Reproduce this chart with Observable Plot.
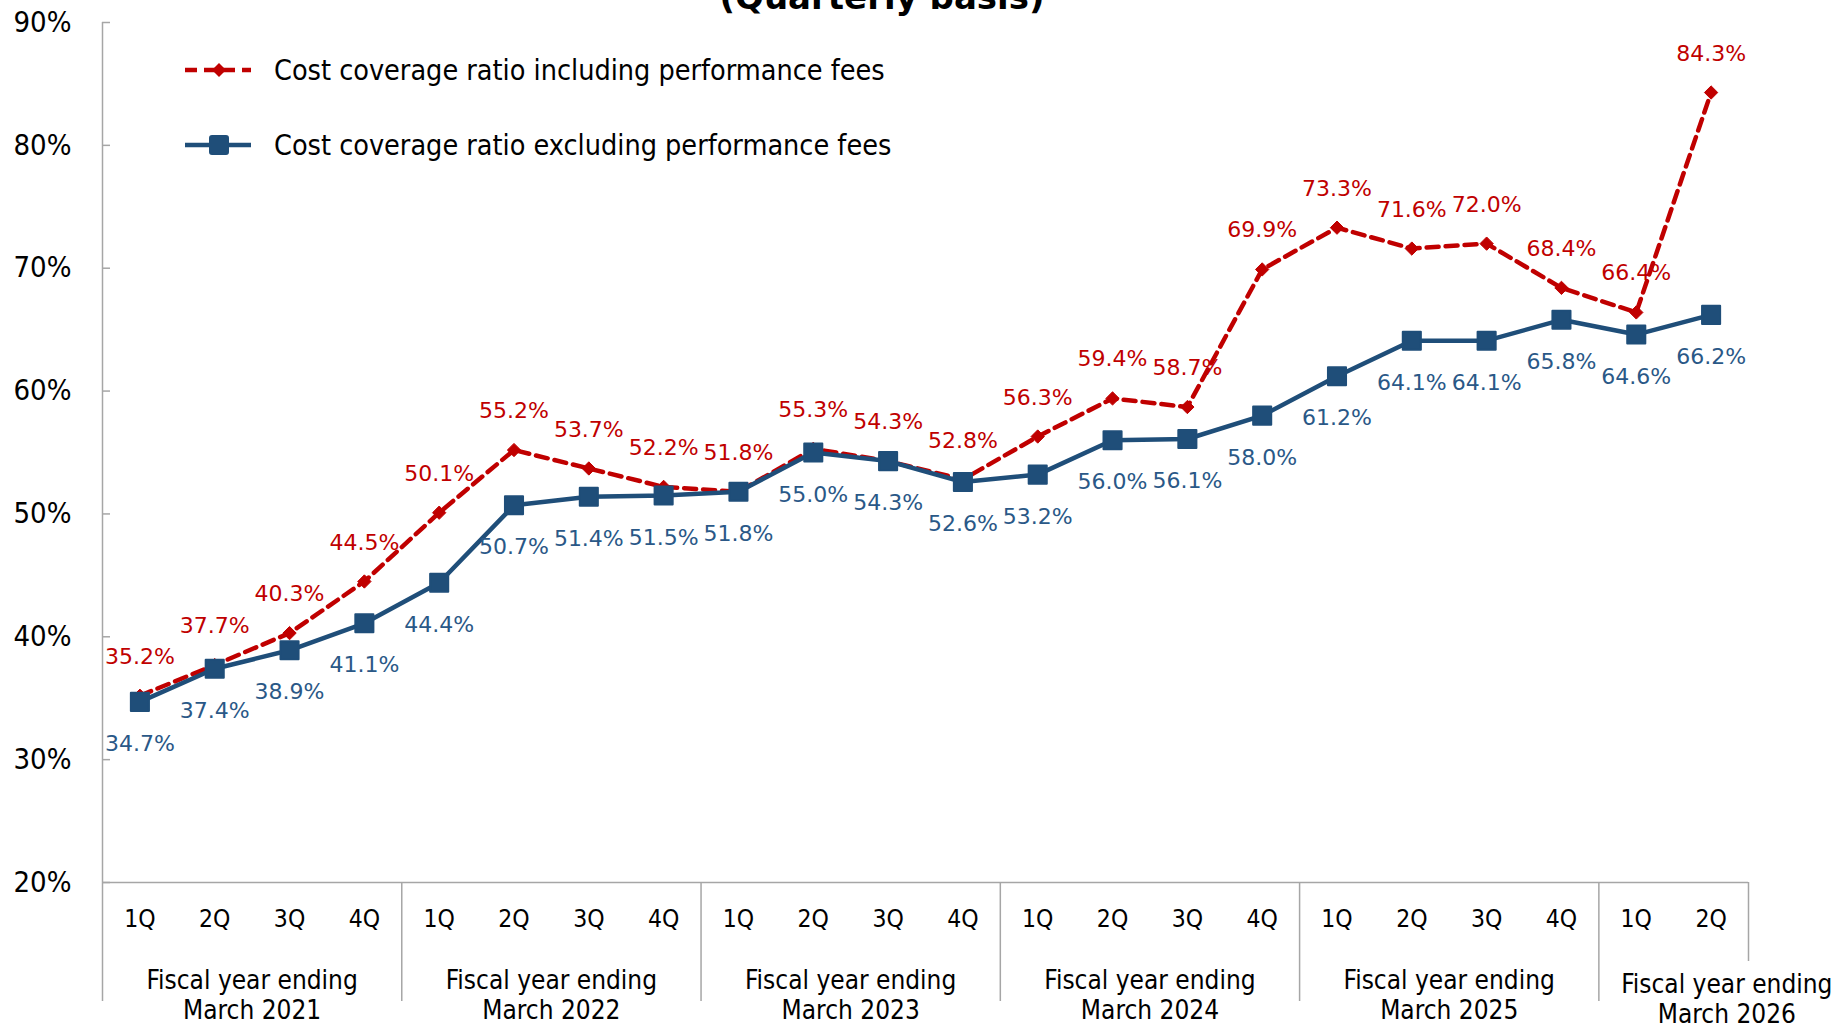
<!DOCTYPE html>
<html>
<head>
<meta charset="utf-8">
<script src="https://cdn.jsdelivr.net/npm/d3@7"></script>
<script src="https://cdn.jsdelivr.net/npm/@observablehq/plot@0.6"></script>
<style>
  html, body { margin: 0; padding: 0; background: #fff; overflow: hidden; }
  #wrap { position: relative; width: 1844px; height: 1026px; }
  #title { position: absolute; left: 882px; top: -20px; transform: translateX(-50%);
    font: bold 34px "DejaVu Sans", sans-serif; line-height: 1; white-space: nowrap; color: #000; }
  .leg { position: absolute; left: 183px; display: flex; align-items: center;
    font: 28.5px "DejaVu Sans Condensed", "DejaVu Sans", sans-serif; color: #000; white-space: nowrap; }
  .leg svg { margin-right: 21px; }
</style>
</head>
<body>
<div id="wrap">
  <div id="chart"></div>
  <div id="title">(Quarterly basis)</div>
  <div class="leg" id="leg1" style="top:52px"></div>
  <div class="leg" id="leg2" style="top:127px"></div>
</div>
<script>
const quarters = ["1Q","2Q","3Q","4Q","1Q","2Q","3Q","4Q","1Q","2Q","3Q","4Q",
                  "1Q","2Q","3Q","4Q","1Q","2Q","3Q","4Q","1Q","2Q"];
const fiscalYear = [2021,2021,2021,2021,2022,2022,2022,2022,2023,2023,2023,2023,
                    2024,2024,2024,2024,2025,2025,2025,2025,2026,2026];
const inclPerf = [35.2,37.7,40.3,44.5,50.1,55.2,53.7,52.2,51.8,55.3,54.3,52.8,
                  56.3,59.4,58.7,69.9,73.3,71.6,72.0,68.4,66.4,84.3];
const exclPerf = [34.7,37.4,38.9,41.1,44.4,50.7,51.4,51.5,51.8,55.0,54.3,52.6,
                  53.2,56.0,56.1,58.0,61.2,64.1,64.1,65.8,64.6,66.2];
const yTicks = [20,30,40,50,60,70,80,90];
const seriesNames = ["Cost coverage ratio including performance fees",
                     "Cost coverage ratio excluding performance fees"];

const RED = "#C00000", BLUE = "#1F4E79", BLUE_TXT = "#2A5887", GRAY = "#A6A6A6";
const AXFONT = "DejaVu Sans Condensed, DejaVu Sans, sans-serif";
const LBLFONT = "DejaVu Sans, sans-serif";

const data = quarters.map((q, i) => ({i, q, fy: fiscalYear[i], incl: inclPerf[i], excl: exclPerf[i]}));
const groups = d3.groups(data, d => d.fy).map(([fy, rows]) => {
  const start = rows[0].i - 0.5, end = rows[rows.length - 1].i + 0.5;
  return {fy, start, end, n: rows.length, center: (start + end) / 2,
          label: `Fiscal year ending\nMarch ${fy}`};
});
const fullGroups = groups.filter(g => g.n === 4);
const partGroups = groups.filter(g => g.n < 4);
const lastEnd = groups[groups.length - 1].end;

const chart = Plot.plot({
  width: 1844, height: 1026,
  marginLeft: 102, marginRight: 96, marginTop: 22, marginBottom: 144,
  style: {background: "transparent", overflow: "visible"},
  x: {type: "linear", domain: [-0.5, data.length - 0.5], axis: null},
  y: {domain: [20, 90], axis: null},
  marks: [
    // y axis labels
    Plot.axisY(yTicks, {tickSize: 0, tickPadding: 31, tickFormat: d => d + "%",
      fontSize: 29, fontFamily: AXFONT, fill: "#000", label: null}),
    // quarter labels
    Plot.axisX(data.map(d => d.i), {tickSize: 0, tickPadding: 27, tickFormat: i => quarters[i],
      fontSize: 24.5, fontFamily: AXFONT, fill: "#000", label: null}),
    // inward y ticks
    Plot.ruleY(yTicks, {x1: -0.5, x2: -0.5, insetRight: -8, stroke: GRAY, strokeWidth: 1.5}),
    // y axis line
    Plot.ruleX([-0.5], {stroke: GRAY, strokeWidth: 1.5}),
    // x axis line
    Plot.ruleY([20], {x1: -0.5, x2: lastEnd, stroke: GRAY, strokeWidth: 1.5}),
    // category separators
    Plot.ruleX(groups.map(g => g.start), {y1: 20, y2: 20, insetBottom: -119, stroke: GRAY, strokeWidth: 1.5}),
    Plot.ruleX([lastEnd], {y1: 20, y2: 20, insetBottom: -79, stroke: GRAY, strokeWidth: 1.5}),
    // fiscal year labels
    Plot.text(fullGroups, {x: "center", y: () => 20, text: "label", lineAnchor: "top", dy: 85,
      lineHeight: 1.15, fontSize: 26, fontFamily: AXFONT, fill: "#000"}),
    Plot.text(partGroups, {x: "start", y: () => 20, text: "label", lineAnchor: "top", dy: 89, dx: 128,
      lineHeight: 1.15, fontSize: 26, fontFamily: AXFONT, fill: "#000"}),
    // red dashed series
    Plot.line(data, {x: "i", y: "incl", stroke: RED, strokeWidth: 4.5, strokeDasharray: "12,7"}),
    Plot.dot(data, {x: "i", y: "incl", symbol: "diamond2", r: 6, fill: RED, stroke: RED, strokeWidth: 1}),
    // blue solid series
    Plot.line(data, {x: "i", y: "excl", stroke: BLUE, strokeWidth: 4.5}),
    Plot.dot(data, {x: "i", y: "excl", symbol: "square", r: 10.2, fill: BLUE, stroke: BLUE,
      strokeWidth: 2, strokeLinejoin: "round"}),
    // data labels
    Plot.text(data, {x: "i", y: "incl", text: d => d.incl.toFixed(1) + "%", dy: -39,
      fontSize: 22, fontFamily: LBLFONT, fill: RED}),
    Plot.text(data, {x: "i", y: "excl", text: d => d.excl.toFixed(1) + "%", dy: 42,
      fontSize: 22, fontFamily: LBLFONT, fill: BLUE_TXT})
  ]
});
document.getElementById("chart").appendChild(chart);

// legend
document.getElementById("leg1").innerHTML =
  `<svg width="70" height="36"><line x1="2" y1="18" x2="68" y2="18" stroke="${RED}" stroke-width="4.5" stroke-dasharray="12,7"/>
   <path d="M36,11 L43,18 L36,25 L29,18 Z" fill="${RED}"/></svg><span>${seriesNames[0]}</span>`;
document.getElementById("leg2").innerHTML =
  `<svg width="70" height="36"><line x1="2" y1="18" x2="68" y2="18" stroke="${BLUE}" stroke-width="4.5"/>
   <rect x="27" y="9" width="18" height="18" rx="2" fill="${BLUE}" stroke="${BLUE}" stroke-width="2"/></svg><span>${seriesNames[1]}</span>`;
</script>
</body>
</html>
